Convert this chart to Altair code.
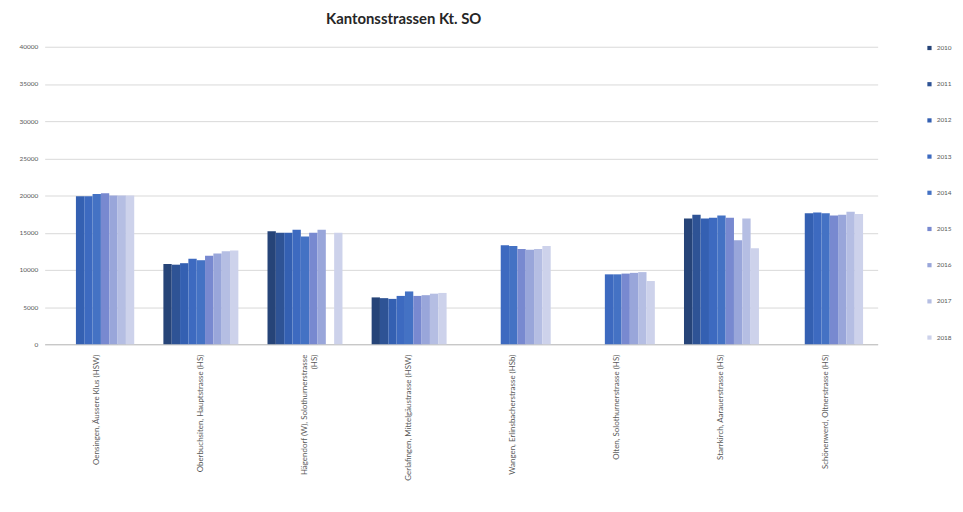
import altair as alt
import pandas as pd

years = ["2010", "2011", "2012", "2013", "2014", "2015", "2016", "2017", "2018"]
categories = [
    "Oensingen, Äussere Klus (HSW)",
    "Oberbuchsiten, Hauptstrasse (HS)",
    "Hägendorf (W), Solothurnerstrasse|(HS)",
    "Gerlafingen, Mittelgäustrasse (HSW)",
    "Wangen, Erlinsbacherstrasse (HSb)",
    "Olten, Solothurnerstrasse (HS)",
    "Starrkirch, Aarauerstrasse (HS)",
    "Schönenwerd, Oltnerstrasse (HS)",
]
v_oensingen = [None, None, 19900, 19900, 20200, 20300, 20000, 20000, 20000]
v_oberbuchsiten = [10800, 10700, 10900, 11500, 11300, 11900, 12200, 12500, 12600]
v_haegendorf = [15200, 15000, 15000, 15400, 14500, 15000, 15400, None, 15000]
v_gerlafingen = [6300, 6200, 6100, 6500, 7100, 6500, 6600, 6800, 6900]
v_wangen = [None, None, None, 13300, 13200, 12800, 12700, 12800, 13200]
v_olten = [None, None, None, 9400, 9400, 9500, 9600, 9700, 8500]
v_starrkirch = [16900, 17400, 16900, 17000, 17300, 17000, 14000, 16900, 12900]
v_schoenenwerd = [None, None, 17600, 17700, 17600, 17300, 17400, 17800, 17500]
colors = ["#264478", "#2E5395", "#3460B2", "#3D6AC0", "#4472C4",
          "#7889D0", "#99A6DA", "#B5BEE3", "#CDD2EB"]

series = [v_oensingen, v_oberbuchsiten, v_haegendorf, v_gerlafingen,
          v_wangen, v_olten, v_starrkirch, v_schoenenwerd]
rows = []
for cat, vals in zip(categories, series):
    for y, v in zip(years, vals):
        if v is not None:
            rows.append({"Ort": cat, "Jahr": y, "Wert": v})
df = pd.DataFrame(rows)

font = "Lato"
grey = "#595959"

chart = alt.Chart(df).mark_bar().encode(
    x=alt.X("Ort:N", sort=categories, title=None,
            scale=alt.Scale(paddingInner=0.28, paddingOuter=0.14),
            axis=alt.Axis(labelAngle=-90, labelAlign="right", labelBaseline="middle",
                          labelPadding=10, ticks=False, domainColor="#BFBFBF",
                          labelFontSize=8, labelColor=grey, labelFont=font,
                          labelLimit=200, labelExpr="split(datum.label, '|')")),
    xOffset=alt.XOffset("Jahr:N", scale=alt.Scale(domain=years, paddingInner=0, paddingOuter=0)),
    y=alt.Y("Wert:Q", title=None,
            scale=alt.Scale(domain=[0, 40000], nice=False),
            axis=alt.Axis(values=list(range(0, 40001, 5000)), format="d", domain=False,
                          ticks=False, gridColor="#D9D9D9", labelFontSize=6.5,
                          labelColor=grey, labelFont=font, labelPadding=7)),
    color=alt.Color("Jahr:N", scale=alt.Scale(domain=years, range=colors),
                    legend=alt.Legend(title=None, orient="none", legendX=889, legendY=-2,
                                      symbolType="square", symbolSize=18,
                                      labelFontSize=6.5, labelColor=grey, labelFont=font,
                                      rowPadding=29.5)),
).properties(
    width=840, height=300,
    title=alt.TitleParams("Kantonsstrassen Kt. SO", fontSize=15, font=font,
                          fontWeight="bold", color="#262626", anchor="middle",
                          dx=-58, offset=17),
    autosize=alt.AutoSizeParams(type="none"),
    padding={"left": 37, "top": 37, "right": 78, "bottom": 159},
).configure_view(stroke=None)

chart.save("out.html", embed_options={"renderer": "svg", "actions": False})
